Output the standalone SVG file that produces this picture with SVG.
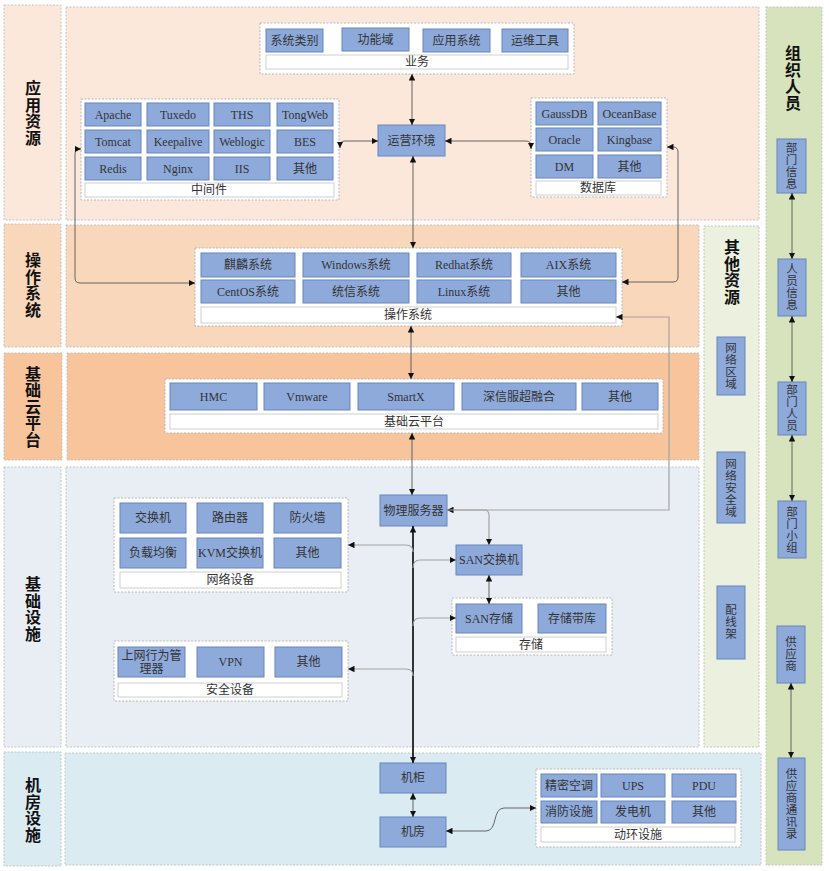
<svg xmlns="http://www.w3.org/2000/svg" width="829" height="871" viewBox="0 0 829 871">
<defs>
<marker id="ar" viewBox="0 0 8 8" refX="8" refY="4" markerWidth="6.5" markerHeight="6.5" orient="auto-start-reverse" markerUnits="userSpaceOnUse"><path d="M0,0 L8,4 L0,8 z" fill="#111"/></marker>
</defs>
<style>
.band{stroke:#c4c4c4;stroke-width:1;stroke-dasharray:2 1.5}
.b1{fill:#fce8da}.b2{fill:#f9d7ba}.b3{fill:#f7c49c}.b4{fill:#e9eef5}.b5{fill:#dbebf2}.b6{fill:#ebf0df}.b7{fill:#d7e3bc}
.grp{fill:#fff;stroke:#b8b8b8;stroke-width:1;stroke-dasharray:2 1.5}
.bar{fill:#fff;stroke:#cfcfcf;stroke-width:1}
.box{fill:#8eaadb;stroke:#6686bd;stroke-width:1}
.t{font-family:"Liberation Serif","Noto Sans CJK SC",serif;font-size:12px;fill:#333;text-anchor:middle;dominant-baseline:central}
.v{font-family:"Noto Sans CJK SC",sans-serif;font-size:11.5px;letter-spacing:0.5px;fill:#333;text-anchor:middle;writing-mode:vertical-rl}
.lbl{font-family:"Noto Sans CJK SC",sans-serif;font-size:16px;letter-spacing:0.5px;font-weight:bold;fill:#111;text-anchor:middle;writing-mode:vertical-rl}
.c{fill:none;stroke:#555;stroke-width:0.9}
.g{fill:none;stroke:#a3a3a3;stroke-width:1.2}
.k{fill:none;stroke:#333;stroke-width:2}
</style>

<!-- bands -->
<g id="band-app"><rect class="band b1" x="4" y="5" width="57" height="215"/><rect class="band b1" x="66" y="7" width="693" height="213"/>
<text class="lbl" x="33" y="113">应用资源</text></g>
<g id="band-os"><rect class="band b2" x="4" y="224" width="57" height="123"/><rect class="band b2" x="66" y="225" width="633" height="122"/>
<text class="lbl" x="33" y="285">操作系统</text></g>
<g id="band-cloud"><rect class="band b3" x="4" y="353" width="58" height="107"/><rect class="band b3" x="67" y="353" width="632" height="107"/>
<text class="lbl" x="33" y="407">基础云平台</text></g>
<g id="band-infra"><rect class="band b4" x="4" y="467" width="57" height="280"/><rect class="band b4" x="66" y="467" width="633" height="280"/>
<text class="lbl" x="33" y="609">基础设施</text></g>
<g id="band-room"><rect class="band b5" x="4" y="752" width="57" height="114"/><rect class="band b5" x="65" y="753" width="696" height="112"/>
<text class="lbl" x="33" y="810">机房设施</text></g>
<g id="band-other"><rect class="band b6" x="704" y="226" width="55" height="521"/>
<text class="lbl" x="732" y="272">其他资源</text></g>
<g id="band-org"><rect class="band b7" x="766" y="7" width="56" height="858"/>
<text class="lbl" x="793" y="78">组织人员</text></g>

<!-- 业务 -->
<g id="biz"><rect class="grp" x="260" y="23" width="314" height="51"/>
<rect class="box" x="266" y="29" width="57" height="23"/><text class="t" x="294.5" y="40.5">系统类别</text>
<rect class="box" x="342" y="28" width="67" height="23"/><text class="t" x="375.5" y="39.5">功能域</text>
<rect class="box" x="423" y="29" width="67" height="23"/><text class="t" x="456.5" y="40.5">应用系统</text>
<rect class="box" x="502" y="29" width="66" height="23"/><text class="t" x="535" y="40.5">运维工具</text>
<rect class="bar" x="266" y="55" width="302" height="14"/><text class="t" x="417" y="62">业务</text></g>

<!-- 中间件 -->
<g id="middleware"><rect class="grp" x="81" y="99" width="258" height="101"/>
<rect class="box" x="85" y="103" width="56" height="23"/><text class="t" x="113" y="114.5">Apache</text>
<rect class="box" x="147" y="103" width="62" height="23"/><text class="t" x="178" y="114.5">Tuxedo</text>
<rect class="box" x="214" y="103" width="56" height="23"/><text class="t" x="242" y="114.5">THS</text>
<rect class="box" x="277" y="103" width="56" height="23"/><text class="t" x="305" y="114.5">TongWeb</text>
<rect class="box" x="85" y="130" width="56" height="23"/><text class="t" x="113" y="141.5">Tomcat</text>
<rect class="box" x="147" y="130" width="62" height="23"/><text class="t" x="178" y="141.5">Keepalive</text>
<rect class="box" x="214" y="130" width="56" height="23"/><text class="t" x="242" y="141.5">Weblogic</text>
<rect class="box" x="277" y="130" width="56" height="23"/><text class="t" x="305" y="141.5">BES</text>
<rect class="box" x="85" y="157" width="56" height="23"/><text class="t" x="113" y="168.5">Redis</text>
<rect class="box" x="147" y="157" width="62" height="23"/><text class="t" x="178" y="168.5">Nginx</text>
<rect class="box" x="214" y="157" width="56" height="23"/><text class="t" x="242" y="168.5">IIS</text>
<rect class="box" x="277" y="157" width="56" height="23"/><text class="t" x="305" y="168.5">其他</text>
<rect class="bar" x="85" y="183" width="249" height="14"/><text class="t" x="209" y="190">中间件</text></g>

<!-- 运营环境 -->
<g id="ops-env"><rect class="box" x="378" y="125" width="67" height="31"/><text class="t" x="411.5" y="140.5">运营环境</text></g>

<!-- 数据库 -->
<g id="database"><rect class="grp" x="531" y="98" width="136" height="99"/>
<rect class="box" x="536" y="102" width="57" height="23"/><text class="t" x="564.5" y="113.5">GaussDB</text>
<rect class="box" x="598" y="102" width="63" height="23"/><text class="t" x="629.5" y="113.5">OceanBase</text>
<rect class="box" x="536" y="128" width="57" height="23"/><text class="t" x="564.5" y="139.5">Oracle</text>
<rect class="box" x="598" y="128" width="63" height="23"/><text class="t" x="629.5" y="139.5">Kingbase</text>
<rect class="box" x="536" y="155" width="57" height="23"/><text class="t" x="564.5" y="166.5">DM</text>
<rect class="box" x="598" y="155" width="63" height="23"/><text class="t" x="629.5" y="166.5">其他</text>
<rect class="bar" x="536" y="181" width="125" height="14"/><text class="t" x="598" y="188">数据库</text></g>

<!-- 操作系统 -->
<g id="os"><rect class="grp" x="195" y="248" width="427" height="78"/>
<rect class="box" x="201" y="253" width="94" height="24"/><text class="t" x="248" y="265">麒麟系统</text>
<rect class="box" x="303" y="253" width="106" height="24"/><text class="t" x="356" y="265">Windows系统</text>
<rect class="box" x="417" y="253" width="94" height="24"/><text class="t" x="464" y="265">Redhat系统</text>
<rect class="box" x="521" y="253" width="95" height="24"/><text class="t" x="568.5" y="265">AIX系统</text>
<rect class="box" x="201" y="280" width="94" height="23"/><text class="t" x="248" y="291.5">CentOS系统</text>
<rect class="box" x="303" y="280" width="106" height="23"/><text class="t" x="356" y="291.5">统信系统</text>
<rect class="box" x="417" y="280" width="94" height="23"/><text class="t" x="464" y="291.5">Linux系统</text>
<rect class="box" x="521" y="280" width="95" height="23"/><text class="t" x="568.5" y="291.5">其他</text>
<rect class="bar" x="201" y="307" width="415" height="16"/><text class="t" x="408" y="315">操作系统</text></g>

<!-- 基础云平台 -->
<g id="cloud"><rect class="grp" x="165" y="379" width="498" height="54"/>
<rect class="box" x="170" y="383" width="87" height="27"/><text class="t" x="213.5" y="396.5">HMC</text>
<rect class="box" x="264" y="383" width="86" height="27"/><text class="t" x="307" y="396.5">Vmware</text>
<rect class="box" x="358" y="383" width="96" height="27"/><text class="t" x="406" y="396.5">SmartX</text>
<rect class="box" x="462" y="383" width="114" height="27"/><text class="t" x="519" y="396.5">深信服超融合</text>
<rect class="box" x="582" y="383" width="76" height="27"/><text class="t" x="620" y="396.5">其他</text>
<rect class="bar" x="170" y="414" width="488" height="15"/><text class="t" x="414" y="421.5">基础云平台</text></g>

<!-- 网络设备 -->
<g id="network"><rect class="grp" x="114" y="498" width="234" height="94"/>
<rect class="box" x="120" y="503" width="66" height="30"/><text class="t" x="153" y="518">交换机</text>
<rect class="box" x="197" y="503" width="66" height="30"/><text class="t" x="230" y="518">路由器</text>
<rect class="box" x="274" y="503" width="67" height="30"/><text class="t" x="307.5" y="518">防火墙</text>
<rect class="box" x="120" y="538" width="66" height="30"/><text class="t" x="153" y="553">负载均衡</text>
<rect class="box" x="197" y="538" width="66" height="30"/><text class="t" x="230" y="553">KVM交换机</text>
<rect class="box" x="274" y="538" width="67" height="30"/><text class="t" x="307.5" y="553">其他</text>
<rect class="bar" x="120" y="572" width="221" height="16"/><text class="t" x="230.5" y="580">网络设备</text></g>

<!-- 安全设备 -->
<g id="security"><rect class="grp" x="114" y="641" width="234" height="60"/>
<rect class="box" x="118" y="647" width="67" height="30"/><text class="t" x="151.5" y="655.5">上网行为管</text><text class="t" x="151.5" y="669">理器</text>
<rect class="box" x="197" y="647" width="67" height="30"/><text class="t" x="230.5" y="662">VPN</text>
<rect class="box" x="275" y="647" width="67" height="30"/><text class="t" x="308.5" y="662">其他</text>
<rect class="bar" x="118" y="683" width="224" height="14"/><text class="t" x="230" y="690">安全设备</text></g>

<!-- 物理服务器, SAN -->
<g id="server"><rect class="box" x="380" y="495" width="67" height="31"/><text class="t" x="413.5" y="510.5">物理服务器</text></g>
<g id="san-switch"><rect class="box" x="456" y="545" width="66" height="30"/><text class="t" x="489" y="560">SAN交换机</text></g>
<g id="storage"><rect class="grp" x="452" y="598" width="160" height="57"/>
<rect class="box" x="456" y="604" width="66" height="29"/><text class="t" x="489" y="618.5">SAN存储</text>
<rect class="box" x="538" y="604" width="68" height="29"/><text class="t" x="572" y="618.5">存储带库</text>
<rect class="bar" x="456" y="637" width="150" height="15"/><text class="t" x="531" y="644.5">存储</text></g>

<!-- 机房设施 -->
<g id="cabinet"><rect class="box" x="380" y="763" width="66" height="30"/><text class="t" x="413" y="778">机柜</text></g>
<g id="room"><rect class="box" x="380" y="817" width="66" height="30"/><text class="t" x="413" y="832">机房</text></g>
<g id="power-env"><rect class="grp" x="536" y="769" width="205" height="78"/>
<rect class="box" x="541" y="774" width="56" height="23"/><text class="t" x="569" y="785.5">精密空调</text>
<rect class="box" x="601" y="774" width="64" height="23"/><text class="t" x="633" y="785.5">UPS</text>
<rect class="box" x="672" y="774" width="64" height="23"/><text class="t" x="704" y="785.5">PDU</text>
<rect class="box" x="541" y="801" width="56" height="22"/><text class="t" x="569" y="812">消防设施</text>
<rect class="box" x="601" y="801" width="64" height="22"/><text class="t" x="633" y="812">发电机</text>
<rect class="box" x="672" y="801" width="64" height="22"/><text class="t" x="704" y="812">其他</text>
<rect class="bar" x="541" y="827" width="194" height="15"/><text class="t" x="638" y="834.5">动环设施</text></g>

<!-- 其他资源 -->
<g id="net-zone"><rect class="box" x="717" y="337" width="28" height="58"/><text class="v" x="731" y="366">网络区域</text></g>
<g id="net-sec-zone"><rect class="box" x="717" y="452" width="28" height="71"/><text class="v" x="731" y="488">网络安全域</text></g>
<g id="patch-panel"><rect class="box" x="717" y="586" width="28" height="73"/><text class="v" x="731" y="622">配线架</text></g>

<!-- 组织人员 -->
<g id="dept-info"><rect class="box" x="777" y="139" width="29" height="54"/><text class="v" x="791.5" y="166">部门信息</text></g>
<g id="staff-info"><rect class="box" x="778" y="259" width="28" height="57"/><text class="v" x="792" y="287">人员信息</text></g>
<g id="dept-staff"><rect class="box" x="778" y="382" width="28" height="53"/><text class="v" x="792" y="408">部门人员</text></g>
<g id="dept-group"><rect class="box" x="778" y="501" width="28" height="57"/><text class="v" x="792" y="530">部门小组</text></g>
<g id="supplier"><rect class="box" x="777" y="626" width="28" height="57"/><text class="v" x="791" y="654">供应商</text></g>
<g id="supplier-contacts"><rect class="box" x="778" y="758" width="27" height="92"/><text class="v" x="791.5" y="804">供应商通讯录</text></g>

<!-- connectors -->
<g id="connectors" marker-start="url(#ar)" marker-end="url(#ar)">
<path class="c" d="M412,74 V125"/>
<path class="c" d="M413,156 V248"/>
<path class="c" d="M378,141 H345 Q340,141 340,146 V148"/>
<path class="c" d="M445,141 H526 Q531,141 531,146 V149"/>
<path class="c" d="M195,283 H80 Q75,283 75,278 V154 Q75,149 79,149 H81"/>
<path class="c" d="M667,147 H673 Q678,147 678,152 V277 Q678,282 673,282 H622"/>
<path class="g" d="M447,510 H669 V317 H616"/>
<path class="g" d="M447,510 H484 Q489,510 489,515 V545" marker-start="none"/>
<path class="c" d="M489,575 V604"/>
<path class="c" d="M411,326 V379"/>
<path class="c" d="M412,433 V495"/>
<path class="k" d="M413,526 V763"/>
<path class="g" d="M413,552 Q413,545 406,545 H348" marker-start="none"/>
<path class="g" d="M413,568 Q413,560 420,560 H456" marker-start="none"/>
<path class="g" d="M413,626 Q413,618 420,618 H456" marker-start="none"/>
<path class="g" d="M413,676 Q413,669 406,669 H348" marker-start="none"/>
<path class="c" d="M413,793 V817"/>
<path class="c" d="M446,831 H486 C498,831 492,808 504,808 H536"/>
<path class="c" d="M792,193 V259"/>
<path class="c" d="M792,316 V382"/>
<path class="c" d="M792,435 V501"/>
<path class="c" d="M791,683 V758"/>
</g>
</svg>
